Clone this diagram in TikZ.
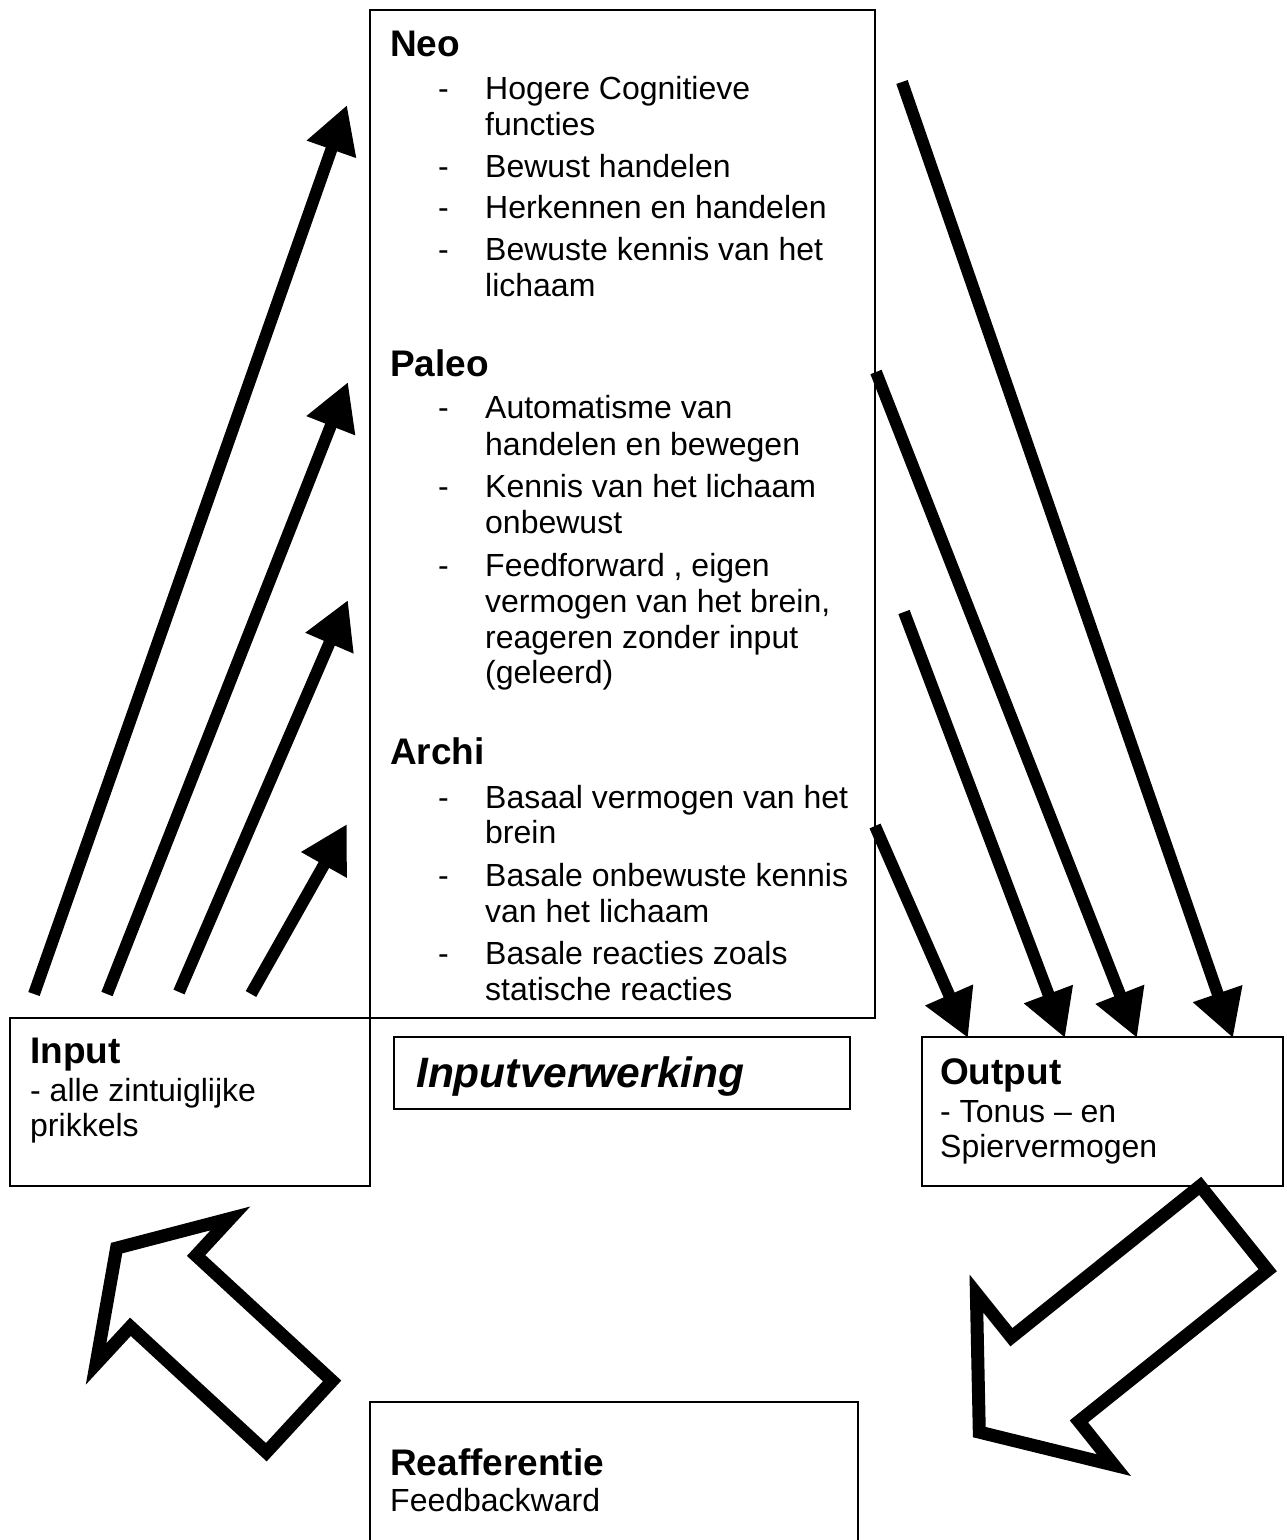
\documentclass[tikz,border=0pt]{standalone}
\usepackage{fontspec}
\setmainfont{Liberation Sans}
\usetikzlibrary{arrows.meta}
\newcommand\fbody{\fontsize{32}{36.5}\selectfont}
\newcommand\fhead{\fontsize{37}{42}\selectfont\bfseries}
\newcommand\fbig{\fontsize{42.5}{48}\selectfont\bfseries\itshape}
\begin{document}
\begin{tikzpicture}[x=1pt,y=-1pt,
  box/.style={draw, line width=2pt, anchor=north west, outer sep=0pt, inner sep=0pt},
  txt/.style={anchor=base west, inner sep=0pt, font=\fbody},
  head/.style={anchor=base west, inner sep=0pt, font=\fhead},
  big/.style={anchor=base west, inner sep=0pt, font=\fbig},
  thickarrow/.style={line width=12pt, -{Triangle[length=47pt,width=49pt]}},
  hollow/.style={draw, fill=white, line width=13pt, line join=miter}]
\useasboundingbox (0,0) rectangle (1286,1540);

% boxes
\node[box, minimum width=505pt, minimum height=1008pt] (main) at (370,10) {};
\node[box, minimum width=360pt, minimum height=168pt] (input) at (10,1018) {};
\node[box, minimum width=456pt, minimum height=72pt] (verw) at (394,1037) {};
\node[box, minimum width=361pt, minimum height=149pt] (output) at (922,1037) {};
\node[box, minimum width=488pt, minimum height=170pt] (reaff) at (370,1402) {};

% Neo
\node[head] (neo) at (390,56) {Neo};
\node[txt] (d1) at (438,99) {-};
\node[txt] (n1a) at (485,99) {Hogere Cognitieve};
\node[txt] (n1b) at (485,135) {functies};
\node[txt] (d2) at (438,177) {-};
\node[txt] (n2) at (485,177) {Bewust handelen};
\node[txt] (d3) at (438,218) {-};
\node[txt] (n3) at (485,218) {Herkennen en handelen};
\node[txt] (d4) at (438,260) {-};
\node[txt] (n4a) at (485,260) {Bewuste kennis van het};
\node[txt] (n4b) at (485,296) {lichaam};

% Paleo
\node[head] (paleo) at (390,376) {Paleo};
\node[txt] (d5) at (438,418) {-};
\node[txt] (p1a) at (485,418) {Automatisme van};
\node[txt] (p1b) at (485,455) {handelen en bewegen};
\node[txt] (d6) at (438,497) {-};
\node[txt] (p2a) at (485,497) {Kennis van het lichaam};
\node[txt] (p2b) at (485,533) {onbewust};
\node[txt] (d7) at (438,576) {-};
\node[txt] (p3a) at (485,576) {Feedforward , eigen};
\node[txt] (p3b) at (485,612) {vermogen van het brein,};
\node[txt] (p3c) at (485,648) {reageren zonder input};
\node[txt] (p3d) at (485,683) {(geleerd)};

% Archi
\node[head] (archi) at (390,764) {Archi};
\node[txt] (d8) at (438,808) {-};
\node[txt] (a1a) at (485,808) {Basaal vermogen van het};
\node[txt] (a1b) at (485,843) {brein};
\node[txt] (d9) at (438,886) {-};
\node[txt] (a2a) at (485,886) {Basale onbewuste kennis};
\node[txt] (a2b) at (485,922) {van het lichaam};
\node[txt] (d10) at (438,964) {-};
\node[txt] (a3a) at (485,964) {Basale reacties zoals};
\node[txt] (a3b) at (485,1000) {statische reacties};

% Input
\node[head] (inh) at (30,1063) {Input};
\node[txt] (in1) at (30,1101) {- alle zintuiglijke};
\node[txt] (in2) at (30,1136) {prikkels};

% Inputverwerking
\node[big] (verwt) at (416,1087) {Inputverwerking};

% Output
\node[head] (outh) at (940,1084) {Output};
\node[txt] (out1) at (940,1122) {- Tonus – en};
\node[txt] (out2) at (940,1157) {Spiervermogen};

% Reafferentie
\node[head] (reh) at (390,1475) {Reafferentie};
\node[txt] (re1) at (390,1511) {Feedbackward};

% left thick arrows
\coordinate (l1s) at (34,994);  \coordinate (l1t) at (347,105);
\coordinate (l2s) at (107,994); \coordinate (l2t) at (348,382);
\coordinate (l3s) at (179,992); \coordinate (l3t) at (348,600);
\coordinate (l4s) at (251,994); \coordinate (l4t) at (347,824);
\draw[thickarrow] (l1s) -- (l1t);
\draw[thickarrow] (l2s) -- (l2t);
\draw[thickarrow] (l3s) -- (l3t);
\draw[thickarrow] (l4s) -- (l4t);

% right thick arrows
\coordinate (r1s) at (902,82);  \coordinate (r1t) at (1233,1038);
\coordinate (r2s) at (876,372); \coordinate (r2t) at (1137,1038);
\coordinate (r3s) at (904,612); \coordinate (r3t) at (1065,1038);
\coordinate (r4s) at (875,826); \coordinate (r4t) at (968,1038);
\draw[thickarrow] (r1s) -- (r1t);
\draw[thickarrow] (r2s) -- (r2t);
\draw[thickarrow] (r3s) -- (r3t);
\draw[thickarrow] (r4s) -- (r4t);

% hollow block arrows
\draw[hollow] (332.1,1380.9) -- (196.1,1255.5) -- (230.4,1218.4) -- (116.6,1248.1)
  -- (96.1,1363.9) -- (130.4,1326.8) -- (266.3,1452.2) -- cycle;
\draw[hollow] (1200.2,1185.9) -- (1011.4,1337.2) -- (976.4,1293.5) -- (979.3,1432.1)
  -- (1113.9,1465.1) -- (1078.9,1421.4) -- (1267.7,1270.2) -- cycle;
\end{tikzpicture}
\end{document}
